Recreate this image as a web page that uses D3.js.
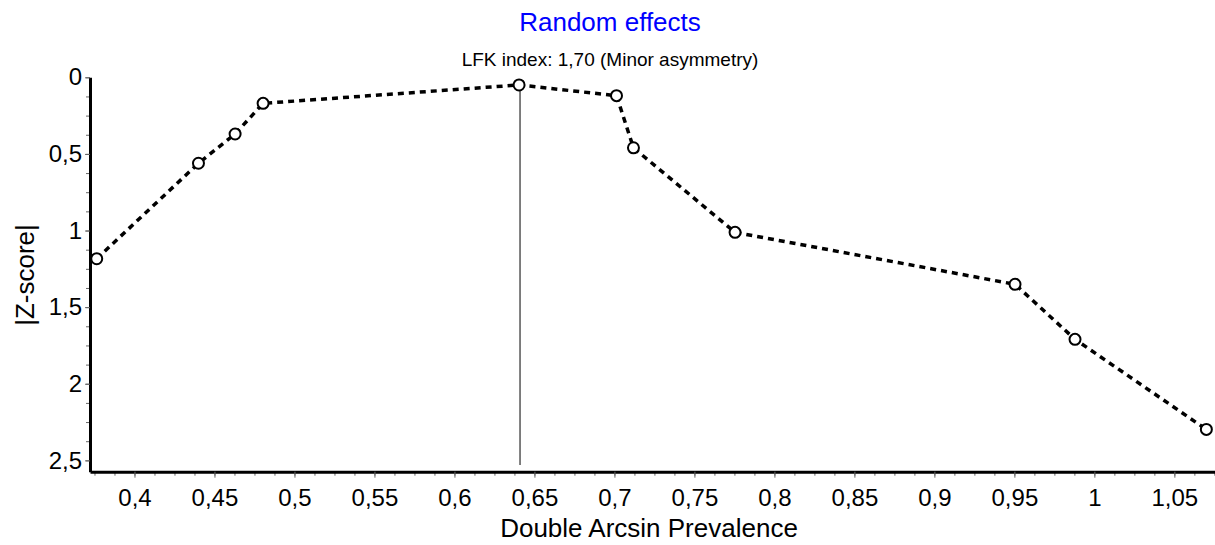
<!DOCTYPE html>
<html>
<head>
<meta charset="utf-8">
<script src="https://cdnjs.cloudflare.com/ajax/libs/d3/7.8.5/d3.min.js"></script>
<style>
  body { margin: 0; background: #fff; }
  svg text { font-family: "Liberation Sans", Arial, sans-serif; }
</style>
</head>
<body>
<svg width="1215" height="545"></svg>
<script>
// data
var prevalence = [0.3764, 0.4400, 0.4629, 0.4804, 0.6404, 0.7013, 0.7119, 0.7754, 0.9504, 0.9879, 1.0700];
var zScore     = [1.184, 0.561, 0.370, 0.170, 0.050, 0.120, 0.460, 1.012, 1.351, 1.710, 2.298];
var xTicks = [0.4, 0.45, 0.5, 0.55, 0.6, 0.65, 0.7, 0.75, 0.8, 0.85, 0.9, 0.95, 1, 1.05];
var yTicks = [0, 0.5, 1, 1.5, 2, 2.5];
var medianLine = { x: 0.641, yFrom: 0.05, yTo: 2.53 };
var title = 'Random effects';
var subtitle = 'LFK index: 1,70 (Minor asymmetry)';

var svg = d3.select('svg');

var locale = d3.formatLocale({ decimal: ',', thousands: '.', grouping: [3], currency: ['', ''] });
var fmt = locale.format('.2~f');

var x = d3.scaleLinear().domain([0.3722, 1.0754]).range([90, 1215]);
var y = d3.scaleLinear().domain([0, 2.574]).range([77.3, 471.7]);

var xMinor = d3.range(0.375, 1.076, 0.0125);
var yMinor = d3.range(0, 2.574, 0.125);

// minor ticks
svg.append('g')
    .attr('transform', 'translate(0,' + y.range()[1] + ')')
    .call(d3.axisBottom(x).tickValues(xMinor).tickFormat('').tickSize(4))
    .call(function (g) { g.select('.domain').remove(); })
    .selectAll('line').attr('stroke', '#666');

svg.append('g')
    .attr('transform', 'translate(' + x.range()[0] + ',0)')
    .call(d3.axisLeft(y).tickValues(yMinor).tickFormat('').tickSize(4))
    .call(function (g) { g.select('.domain').remove(); })
    .selectAll('line').attr('stroke', '#666');

// major ticks + labels
var gx = svg.append('g')
    .attr('transform', 'translate(0,' + y.range()[1] + ')')
    .call(d3.axisBottom(x).tickValues(xTicks).tickFormat(fmt).tickSize(6).tickPadding(11).tickSizeOuter(0));
gx.select('.domain').attr('stroke-width', 3).attr('stroke', '#000');
gx.selectAll('.tick line').attr('stroke', '#666');
gx.selectAll('text').attr('font-size', 24).attr('fill', '#000');

var gy = svg.append('g')
    .attr('transform', 'translate(' + x.range()[0] + ',0)')
    .call(d3.axisLeft(y).tickValues(yTicks).tickFormat(fmt).tickSize(5).tickPadding(3).tickSizeOuter(0));
gy.select('.domain').attr('stroke-width', 3).attr('stroke', '#000');
gy.selectAll('.tick line').attr('stroke', '#666');
gy.selectAll('text').attr('font-size', 24).attr('fill', '#000');

// vertical reference line
svg.append('line')
    .attr('x1', x(medianLine.x)).attr('x2', x(medianLine.x))
    .attr('y1', y(medianLine.yFrom)).attr('y2', y(medianLine.yTo))
    .attr('stroke', '#555')
    .attr('stroke-width', 1.5);

// dashed line
var pts = prevalence.map(function (d, i) { return [d, zScore[i]]; });
svg.append('path')
    .datum(pts)
    .attr('fill', 'none')
    .attr('stroke', '#000')
    .attr('stroke-width', 3.5)
    .attr('stroke-dasharray', '6,5')
    .attr('d', d3.line()
        .x(function (d) { return x(d[0]); })
        .y(function (d) { return y(d[1]); }));

svg.append('g')
    .selectAll('circle')
    .data(pts)
    .enter()
    .append('circle')
    .attr('cx', function (d) { return x(d[0]); })
    .attr('cy', function (d) { return y(d[1]); })
    .attr('r', 5.5)
    .attr('fill', '#fff')
    .attr('stroke', '#000')
    .attr('stroke-width', 2);

// titles
svg.append('text')
    .attr('x', 610).attr('y', 31)
    .attr('text-anchor', 'middle')
    .attr('font-size', 26)
    .attr('fill', '#0000ff')
    .text(title);

svg.append('text')
    .attr('x', 610).attr('y', 65.7)
    .attr('text-anchor', 'middle')
    .attr('font-size', 19)
    .attr('fill', '#000')
    .text(subtitle);

// axis titles are centred on the plot area
svg.append('text')
    .attr('x', 649).attr('y', 536.7)
    .attr('text-anchor', 'middle')
    .attr('font-size', 26)
    .attr('fill', '#000')
    .text('Double Arcsin Prevalence');

svg.append('text')
    .attr('transform', 'translate(33.5,275) rotate(-90)')
    .attr('text-anchor', 'middle')
    .attr('font-size', 26)
    .attr('fill', '#000')
    .text('|Z-score|');
</script>
</body>
</html>
